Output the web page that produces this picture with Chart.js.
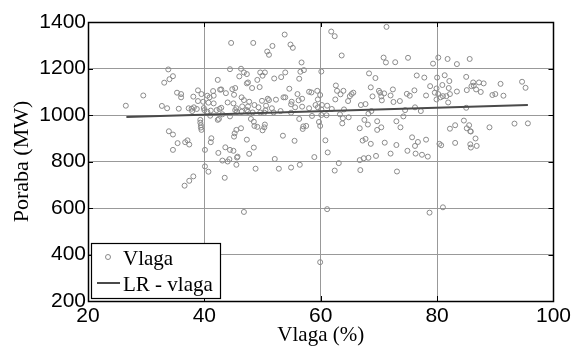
<!DOCTYPE html>
<html>
<head>
<meta charset="utf-8">
<script src="https://cdn.jsdelivr.net/npm/chart.js@4.4.1/dist/chart.umd.min.js"></script>
<style>
  body  { margin: 0; background: #fff; }
  #wrap { width: 574px; height: 347px; }
</style>
</head>
<body>
<div id="wrap"><canvas id="graph" width="574" height="347"></canvas></div>
<script>

// measurements: humidity (%) against consumption (MW)
const vlaga = [
  33.8, 34.6, 34.0, 33.1, 29.5, 26.5, 32.7, 33.6, 35.6, 35.3, 36.0, 36.0, 37.3, 37.8, 38.2, 38.7, 37.9, 38.9, 38.1, 38.9,
  39.5, 39.8, 40.0, 39.3, 39.3, 39.4, 39.4, 39.5, 33.9, 34.6, 35.4, 34.6, 36.7, 37.1, 37.4, 40.1, 40.1, 36.6, 37.4, 38.1,
  46.8, 61.1, 59.9, 78.7, 81.0,
  53.8, 44.6, 48.4, 51.7, 54.8, 55.2, 50.8, 51.1, 56.7, 44.4, 46.3, 46.8, 47.3, 49.6, 50.4, 50.0, 53.9, 56.5, 57.1, 46.0,
  52.0, 53.2, 56.3, 42.3, 49.1, 47.5, 47.3, 49.5, 48.2, 45.3, 44.8, 42.9, 42.7, 54.6, 58.0, 58.4, 59.4, 41.5, 43.7, 45.1,
  40.5, 40.9, 41.6, 46.4, 46.8, 47.7, 49.9, 50.9, 51.1, 52.3, 53.6, 53.9, 55.0, 56.0, 56.2, 56.8, 59.5, 59.9, 40.7, 41.6,
  42.9, 42.6, 44.0, 45.0, 45.5, 46.5, 47.5, 47.3, 48.6, 49.3, 49.6, 50.6, 50.5, 51.6, 51.9, 53.1, 54.9, 55.6, 56.8, 58.0,
  59.1, 59.5, 42.1, 41.1, 40.5, 39.9, 45.6, 46.4, 47.5, 45.3, 41.0, 43.1, 44.4, 48.3, 50.3, 54.9, 56.3, 58.5, 42.5, 42.3,
  48.0, 48.5, 48.6, 49.1, 50.4, 50.3, 50.0, 57.0, 57.5, 56.9, 59.7, 59.9, 46.3, 45.5, 45.2, 45.1, 47.3, 53.5, 55.5, 41.2,
  41.1, 43.6, 44.4, 45.0, 48.5, 42.4, 45.7, 45.6, 47.7, 44.3, 44.0, 43.1, 45.5, 52.1, 58.9, 40.7, 48.8, 52.8, 54.9, 56.4,
  43.5,
  71.3, 61.8, 62.4, 63.6, 70.8, 71.2, 72.8, 75.0, 79.3, 60.1, 68.3, 69.4, 76.5, 77.8, 62.6, 62.8, 63.9, 65.6, 65.3, 65.0,
  68.6, 70.0, 70.2, 70.9, 70.4, 70.5, 72.4, 72.0, 73.6, 72.5, 74.8, 75.3, 76.1, 78.1, 78.8, 63.4, 62.5, 64.7, 68.9, 66.9,
  67.7, 68.2, 68.7, 60.2, 61.1, 61.9, 60.1, 60.1, 61.0, 63.3, 63.8, 64.8, 64.0, 74.5, 76.2, 77.2, 74.2, 63.7, 67.5, 68.1,
  69.7, 70.4, 69.7, 66.7, 73.0, 73.7, 67.2, 67.7, 68.6, 71.0, 73.0, 75.7, 76.7, 76.2, 78.1, 60.8, 61.2, 72.0, 74.9, 76.3,
  77.4, 78.4, 69.5, 66.7, 67.4, 68.2, 63.1, 62.4, 66.8, 73.1,
  80.2, 81.8, 83.4, 85.6, 80.0, 81.3, 85.0, 82.1, 80.9, 86.2, 87.2, 88.0, 86.3, 85.9, 90.9, 94.6, 95.2, 79.9, 82.0, 85.1,
  86.7, 87.5, 83.4, 82.2, 89.5, 90.0, 91.4, 80.2, 79.6, 81.0, 81.6, 80.6, 79.9, 81.9, 85.0, 84.6, 82.2, 83.1, 85.5, 85.1,
  85.7, 85.8, 86.6, 89.0, 93.3, 95.6, 80.4, 80.7, 83.1, 85.7, 85.8, 86.8
]

const poraba = [
  1196, 1167, 1154, 1139, 1084, 1040, 1039, 1029, 1027, 1096, 1090, 1076, 1029, 1027, 1033, 1026, 1017, 1106, 1079, 1060,
  1090, 1057, 1021,  979,  967,  956,  946,  936,  930,  916,  879,  850,  883,  891,  873,  850,  779,  696,  717,  736,
   583,  595,  367,  580,  603,
  1346, 1310, 1310, 1297, 1303, 1289, 1273, 1259, 1226, 1197, 1199, 1183, 1176, 1183, 1183, 1169, 1183, 1186, 1193, 1166,
  1157, 1163, 1156, 1151, 1151, 1140, 1136, 1120, 1116, 1116, 1111, 1110, 1109, 1113, 1100, 1097, 1104, 1103, 1094, 1087,
  1083, 1076, 1083, 1076, 1064, 1057, 1061, 1070, 1064, 1066, 1076, 1076, 1057, 1090, 1063, 1070, 1067, 1086, 1053, 1050,
  1031, 1026, 1054, 1050, 1029, 1037, 1037, 1021, 1043, 1033, 1011, 1040, 1020, 1029, 1011, 1017, 1046, 1033, 1036, 1029,
  1043, 1033, 1021, 1019, 1014, 1030, 1014, 1014, 1014, 1021,  997, 1003,  994, 1011, 1010, 1010,  983,  996,  983,  979,
   983,  971,  953,  949,  959,  947,  934,  951,  953,  940,  970,  953,  943,  936,  921,  907,  894,  911,  889,  900,
   883,  861,  850,  846,  860,  837,  821,  817,  833,  810,  800,  804,  786,  811,  819,  756,  769,  769,  774,  786,
   730,
  1379, 1359, 1339, 1256, 1247, 1226, 1227, 1246, 1221, 1187, 1179, 1159, 1170, 1161, 1127, 1104, 1104, 1096, 1090, 1081,
  1119, 1104, 1096, 1093, 1080, 1063, 1110, 1084, 1060, 1056, 1091, 1083, 1106, 1084, 1124, 1089, 1067, 1060, 1080, 1043,
  1047, 1006, 1017, 1043, 1040, 1026, 1024, 1000,  999, 1003,  986,  990, 1024, 1021, 1033, 1017,  994,  964,  979,  959,
   973,  947,  936,  943,  973,  947,  890,  897,  876,  881,  871,  904,  884,  867,  894,  891,  839,  834,  846,  834,
   829,  821,  824,  806,  814,  816,  793,  761,  763,  757,
  1247, 1241, 1219, 1241, 1161, 1171, 1164, 1146, 1129, 1140, 1140, 1136, 1126, 1124, 1134, 1143, 1117, 1114, 1116, 1107,
  1110, 1099, 1101, 1090, 1086, 1090, 1083, 1090, 1096, 1081, 1081, 1076, 1067, 1054, 1031,  976,  941,  956,  956,  943,
   930,  929,  899,  947,  963,  964,  876,  870,  880,  874,  860,  867
]

// linear regression, end points
const lrVlaga  = [26.6, 95.6]
const lrPoraba = [991, 1043]

const xTicks = [20, 40, 60, 80, 100]
const yTicks = [200, 400, 600, 800, 1000, 1200, 1400]

const labels = ['Vlaga', 'LR - vlaga']

const serif = '"Liberation Serif", "Times New Roman", serif'
const sans  = '"Liberation Sans", Arial, sans-serif'

// box round the axes, small inner ticks and the legend
const frame = {
  id: 'frame',
  afterDatasetsDraw(chart) {
    const { ctx, chartArea: a, scales: { x, y } } = chart
    ctx.save()
    ctx.strokeStyle = '#000'
    ctx.lineWidth = 1
    ctx.beginPath()
    xTicks.forEach(v => {
      let px = Math.round(x.getPixelForValue(v)) + 0.5
      ctx.moveTo(px, a.bottom); ctx.lineTo(px, a.bottom - 5)
      ctx.moveTo(px, a.top);    ctx.lineTo(px, a.top + 5)
    })
    yTicks.forEach(v => {
      let py = Math.round(y.getPixelForValue(v)) + 0.5
      ctx.moveTo(a.left, py);  ctx.lineTo(a.left + 5, py)
      ctx.moveTo(a.right, py); ctx.lineTo(a.right - 5, py)
    })
    ctx.stroke()
    ctx.lineWidth = 1.5
    ctx.strokeRect(Math.round(a.left) + 0.5, Math.round(a.top) + 0.5, Math.round(a.right - a.left), Math.round(a.bottom - a.top))
    ctx.restore()
  },
  afterDraw(chart) {
    const { ctx, chartArea: a } = chart
    const pts  = chart.data.datasets[0]
    const line = chart.data.datasets[1]
    let left = a.left + 3, top = a.bottom - 58, w = 129, h = 55

    ctx.save()
    ctx.fillStyle = '#fff'
    ctx.fillRect(left, top, w, h)
    ctx.strokeStyle = '#000'
    ctx.lineWidth = 1.2
    ctx.strokeRect(left + 0.5, top + 0.5, w, h)

    ctx.strokeStyle = pts.borderColor
    ctx.lineWidth = pts.borderWidth
    ctx.beginPath()
    ctx.arc(left + 17, top + 14, pts.pointRadius, 0, Math.PI * 2)
    ctx.stroke()

    ctx.strokeStyle = line.borderColor
    ctx.lineWidth = line.borderWidth
    ctx.beginPath()
    ctx.moveTo(left + 6, top + 40)
    ctx.lineTo(left + 29, top + 40)
    ctx.stroke()

    ctx.fillStyle = '#000'
    ctx.font = '21px ' + serif
    ctx.textBaseline = 'alphabetic'
    ctx.fillText(pts.label,  left + 32, top + 22)
    ctx.fillText(line.label, left + 32, top + 48)
    ctx.restore()
  }
}

const config = {
  type: 'scatter',
  data: {
    datasets: [{
      label: labels[0],
      data: vlaga.map((v, i) => ({ x: v, y: poraba[i] })),
      borderColor: '#8a8a8a',
      backgroundColor: 'transparent',
      borderWidth: 1,
      pointRadius: 2.5,
      order: 2
    },{
      label: labels[1],
      data: lrVlaga.map((v, i) => ({ x: v, y: lrPoraba[i] })),
      showLine: true,
      borderColor: '#4a4a4a',
      borderWidth: 2,
      pointRadius: 0,
      order: 1
    }]
  },
  options: {
    responsive: false,
    animation: false,
    layout: { padding: { left: 0, top: 22, right: 19, bottom: 0 } },
    plugins: {
      legend: { display: false },
      tooltip: { enabled: false }
    },
    scales: {
      x: {
        type: 'linear',
        min: 20,
        max: 100,
        afterFit: s => { s.height = 46 },
        afterBuildTicks: s => { s.ticks = xTicks.map(v => ({ value: v })) },
        grid: { color: '#999', lineWidth: 1, drawTicks: false },
        border: { display: false },
        ticks: { color: '#000', padding: 3, maxRotation: 0, font: { family: sans, size: 21 }, callback: v => String(v) },
        title: {
          display: true,
          text: 'Vlaga (%)',
          color: '#000',
          font: { family: serif, size: 21, lineHeight: 1 },
          padding: { top: 0, bottom: 1 }
        }
      },
      y: {
        type: 'linear',
        min: 200,
        max: 1400,
        afterFit: s => { s.width = 88 },
        afterBuildTicks: s => { s.ticks = yTicks.map(v => ({ value: v })) },
        grid: { color: '#999', lineWidth: 1, drawTicks: false },
        border: { display: false },
        ticks: { color: '#000', padding: 2, font: { family: sans, size: 21 }, callback: v => String(v) },
        title: {
          display: true,
          text: 'Poraba (MW)',
          color: '#000',
          font: { family: serif, size: 22, lineHeight: 1 },
          padding: { top: 11, bottom: 0 }
        }
      }
    }
  },
  plugins: [frame]
}

new Chart(document.getElementById('graph'), config)

</script>
</body>
</html>
